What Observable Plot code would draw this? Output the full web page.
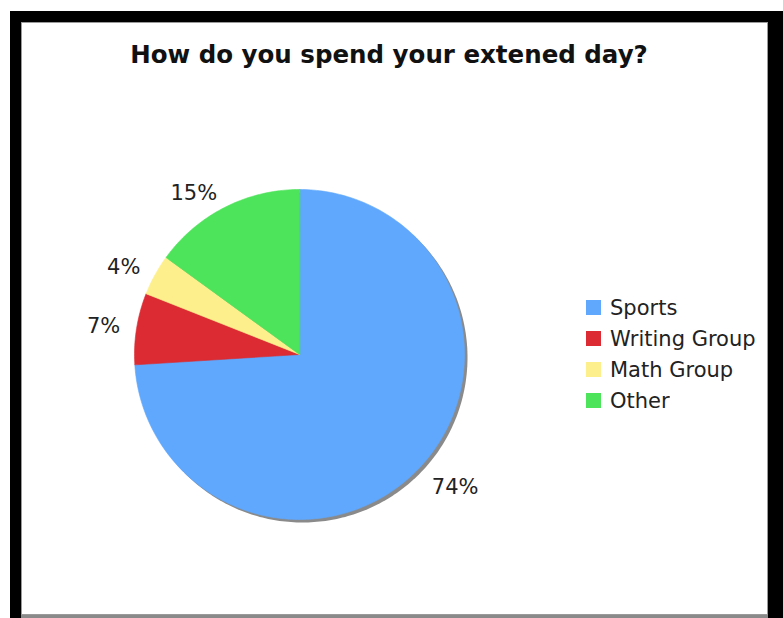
<!DOCTYPE html>
<html>
<head>
<meta charset="utf-8">
<script src="https://cdn.jsdelivr.net/npm/d3@7"></script>
<script src="https://cdn.jsdelivr.net/npm/@observablehq/plot@0.6"></script>
<style>
  html, body { margin: 0; padding: 0; background: #fff; width: 783px; height: 618px; overflow: hidden; }
  #frame { position: absolute; left: 10px; top: 11px; width: 773px; height: 607px; background: #000; }
  #inner { position: absolute; left: 21px; top: 22px; width: 745px; height: 591px; background: #fff; border: 1px solid #9a9a9a; }
  #bottomline { position: absolute; left: 21px; top: 615px; width: 747px; height: 3px; background: #8a8a8a; }
  #title { position: absolute; left: 0; top: 43px; width: 778px; text-align: center;
           font-family: "DejaVu Sans", Verdana, sans-serif; font-weight: bold; font-size: 24.5px; line-height: 24px; color: #111; }
  #chart { position: absolute; left: 79px; top: 134px; }
  #chart svg { overflow: visible; background: transparent; }
  #legend { position: absolute; left: 586px; top: 292px; }
  #legend [class$="-swatch"] { height: 31px; padding: 0 !important; margin: 0 !important; }
  #legend svg { margin-right: 9px !important; }
</style>
</head>
<body>
<div id="frame"></div>
<div id="inner"></div>
<div id="bottomline"></div>
<div id="title"></div>
<div id="chart"></div>
<div id="legend"></div>
<script>
const title = "How do you spend your extened day?";
const categories = ["Sports", "Writing Group", "Math Group", "Other"];
const values = [74, 7, 4, 15];
const labels = ["74%", "7%", "4%", "15%"];
const colors = ["#5fa8fd", "#dc2b33", "#fdf08c", "#4de35a"];

document.getElementById("title").textContent = title;

// pie geometry via d3.pie (angles clockwise from 12 o'clock)
const arcs = d3.pie().sort(null).value(d => d)(values);
const slices = arcs.map((a, i) => ({
  category: categories[i],
  label: labels[i],
  start: a.startAngle,
  end: a.endAngle,
  mid: (a.startAngle + a.endAngle) / 2
}));

const deg = Math.PI / 180;
const slicePts = [];
for (const s of slices) {
  slicePts.push({category: s.category, x: 0, y: 0});
  const n = Math.max(2, Math.ceil((s.end - s.start) / deg));
  for (let j = 0; j <= n; ++j) {
    const t = s.start + (s.end - s.start) * j / n;
    slicePts.push({category: s.category, x: Math.sin(t), y: Math.cos(t)});
  }
}
const shadowPts = d3.range(0, 360).map(a => ({x: Math.sin(a * deg), y: Math.cos(a * deg)}));

const labelR = 1.1;
const labelData = slices.map(s => ({
  label: s.label,
  x: labelR * Math.sin(s.mid),
  y: labelR * Math.cos(s.mid),
  left: Math.sin(s.mid) < 0,
  bottom: Math.cos(s.mid) < 0
}));

const textMarks = [];
for (const left of [true, false]) {
  for (const bottom of [true, false]) {
    textMarks.push(Plot.text(labelData, {
      filter: d => d.left === left && d.bottom === bottom,
      x: "x", y: "y", text: "label",
      textAnchor: left ? "end" : "start",
      lineAnchor: bottom ? "top" : "middle",
      fontSize: 21,
      fontFamily: "DejaVu Sans, Verdana, sans-serif",
      fill: "#222"
    }));
  }
}

const size = 440;
const R = 165;
const k = (size / 2) / R;

const chart = Plot.plot({
  width: size,
  height: size,
  margin: 0,
  x: {domain: [-k, k], axis: null},
  y: {domain: [-k, k], axis: null},
  color: {domain: categories, range: colors},
  style: {background: "transparent", overflow: "visible"},
  marks: [
    Plot.line(shadowPts, {x: "x", y: "y", fill: "#8a8a8a", stroke: "none", curve: "linear-closed", dx: 3, dy: 3}),
    Plot.line(slicePts, {x: "x", y: "y", z: "category", fill: "category", stroke: "category", strokeWidth: 0.6, curve: "linear-closed"}),
    ...textMarks
  ]
});
document.getElementById("chart").appendChild(chart);

const legend = Plot.legend({
  color: {domain: categories, range: colors},
  legend: "swatches",
  columns: 1,
  swatchSize: 15,
  style: {fontSize: "21px", fontFamily: "DejaVu Sans, Verdana, sans-serif", color: "#222", margin: 0}
});
document.getElementById("legend").appendChild(legend);
</script>
</body>
</html>
